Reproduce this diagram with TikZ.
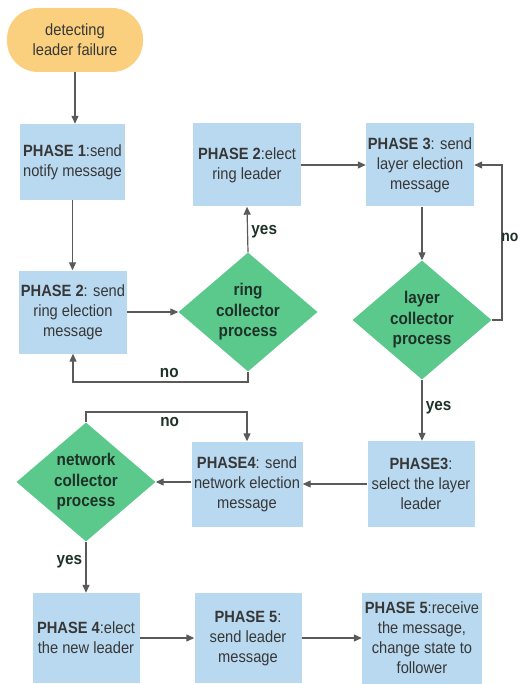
\documentclass[tikz,border=0pt]{standalone}
\usepackage{fontspec}
\setmainfont{Liberation Sans}[FakeStretch=0.9]
\usetikzlibrary{shapes.geometric,arrows.meta}
\definecolor{boxblue}{RGB}{185,217,240}
\definecolor{dgreen}{RGB}{92,201,140}
\definecolor{pill}{RGB}{250,208,127}
\definecolor{txt}{RGB}{55,55,55}
\definecolor{dtxt}{RGB}{30,50,40}
\definecolor{arr}{RGB}{90,90,90}
\begin{document}
\begin{tikzpicture}[x=1pt,y=-1pt,
  every node/.style={font=\fontsize{16.3}{20}\selectfont},
  stepbox/.style={rectangle,fill=boxblue,text=txt,align=center,inner sep=1pt,minimum width=#1,minimum height=83pt},
  stepbox/.default=108pt,
  decide/.style={diamond,fill=dgreen,text=dtxt,align=center,inner sep=0pt,aspect=1.17,minimum width=139pt,minimum height=119pt,font=\fontsize{17}{20.5}\selectfont\bfseries},
  startbox/.style={rectangle,rounded corners=31pt,fill=pill,text=txt,align=center,minimum width=136pt,minimum height=64pt},
  conn/.style={draw=arr,line width=1.2pt,-{Triangle[length=8pt,width=7pt]}},
  lbl/.style={text=dtxt,font=\fontsize{17}{18}\selectfont\bfseries}]
\useasboundingbox (0,0) rectangle (519,684);

\node[startbox] (start) at (75,40) {detecting\\leader failure};
\node[stepbox=105pt,minimum height=76pt] (p1) at (72.5,162) {\textbf{PHASE 1}:send\\notify message};
\node[stepbox] (p2s) at (73,312) {\textbf{PHASE 2}: send\\ring election\\message};
\node[decide] (ring) at (248,312) {ring\\collector\\process};
\node[stepbox] (p2e) at (247,165) {\textbf{PHASE 2}:elect\\ring leader};
\node[stepbox] (p3s) at (420,165) {\textbf{PHASE 3}: send\\layer election\\message};
\node[decide] (layer) at (422,320) {layer\\collector\\process};
\node[stepbox=107pt,minimum height=86pt] (p3l) at (421,484) {\textbf{PHASE3}:\\select the layer\\leader};
\node[stepbox=111pt,minimum height=85pt] (p4s) at (247,484) {\textbf{PHASE4}: send\\network election\\message};
\node[decide] (net) at (86,482) {network\\collector\\process};
\node[stepbox=107pt,minimum height=90pt] (p4e) at (86,638) {\textbf{PHASE 4}:elect\\the new leader};
\node[stepbox=107pt,minimum height=90pt] (p5s) at (248,638) {\textbf{PHASE 5}:\\send leader\\message};
\node[stepbox=120pt,minimum height=91pt] (p5r) at (422,638) {\textbf{PHASE 5}:receive\\the message,\\change state to\\follower};

\coordinate (ringdn) at (248,382);
\coordinate (layerr) at (502,320);
\coordinate (netup) at (86,412);

\draw[conn] (start.south -| 75,0) -- (p1.north -| 75,0);
\draw[conn] (p1.south) -- (p2s.north -| p1.south);
\draw[conn] (p2s.east) -- (ring.west);
\draw[conn] (ring.north) -- node[lbl,right,pos=0.45] {yes} (p2e.south);
\draw[conn] (ring.south) -- (ringdn) -- node[lbl,above,pos=0.45] {no} (ringdn -| p2s.south) -- (p2s.south);
\draw[conn] (p2e.east) -- (p3s.east -| p3s.west);
\draw[conn] (p3s.south -| layer.north) -- (layer.north);
\draw[conn] (layer.east) -- (layerr) |- (p3s.east);
\node[lbl,anchor=east,inner sep=0pt,font=\fontsize{15.5}{17}\selectfont\bfseries] (nolayer) at (518.5,237) {no};
\draw[conn] (layer.south) -- node[lbl,right,pos=0.45] {yes} (p3l.north -| layer.south);
\draw[conn] (p3l.west) -- (p4s.east);
\draw[conn] (p4s.west |- net.east) -- (net.east);
\draw[conn] (net.north) -- (netup) -- node[lbl,below,pos=0.52,yshift=-1pt] {no} (netup -| p4s.north) -- (p4s.north);
\draw[conn] (net.south) -- node[lbl,left,pos=0.4] {yes} (p4e.north);
\draw[conn] (p4e.east) -- (p5s.west);
\draw[conn] (p5s.east) -- (p5r.west);
\end{tikzpicture}
\end{document}
